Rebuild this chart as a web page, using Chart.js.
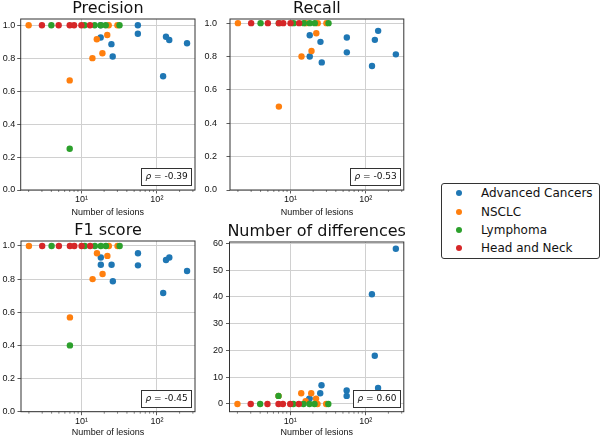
<!DOCTYPE html>
<html>
<head>
<meta charset="utf-8">
<script src="https://cdn.jsdelivr.net/npm/chart.js@4.4.0/dist/chart.umd.min.js"></script>
<style>
  body { margin: 0; width: 602px; height: 438px; position: relative; overflow: hidden; background: #fff; font-family: 'DejaVu Sans', sans-serif; }
  canvas { position: absolute; }
  #legend { position: absolute; left: 441px; top: 183px; width: 157px; height: 74px; border: 1px solid #333; border-radius: 3px; }
  .row { position: absolute; left: 0; font-size: 12px; color: #111; line-height: 14px; white-space: nowrap; }
  .dot { position: absolute; width: 6.4px; height: 6.4px; border-radius: 50%; }
</style>
</head>
<body>
<canvas id="cPrecision"></canvas>
<canvas id="cRecall"></canvas>
<canvas id="cF1"></canvas>
<canvas id="cDiffs"></canvas>
<div id="legend"></div>
<script>
// series
const seriesNames = ['Advanced Cancers', 'NSCLC', 'Lymphoma', 'Head and Neck'];
const seriesColors = ['#1f77b4', '#ff7f0e', '#2ca02c', '#d62728'];

// Advanced Cancers
const advLesions   = [18, 18, 25, 26, 56, 56, 121, 132, 146, 251];
const advPrecision = [0.925, 1.0, 0.885, 0.81, 1.0, 0.948, 0.69, 0.93, 0.91, 0.89];
const advRecall    = [0.928, 0.80, 0.888, 0.765, 0.914, 0.825, 0.743, 0.90, 0.954, 0.813];
const advF1        = [0.93, 0.887, 0.887, 0.787, 0.956, 0.883, 0.716, 0.915, 0.93, 0.849];
const advDiffs     = [2, 2, 4, 7, 5, 3, 41, 18, 6, 58];

// NSCLC
const nsclcLesions   = [2, 7, 14, 16, 19, 22, 23, 30];
const nsclcPrecision = [1, 0.665, 0.80, 0.915, 0.83, 0.94, 1, 1];
const nsclcRecall    = [1, 0.5, 0.80, 1, 0.833, 0.94, 1, 1];
const nsclcF1        = [1, 0.569, 0.80, 0.956, 0.831, 0.94, 1, 1];
const nsclcDiffs     = [0, 3, 4, 1, 4, 2, 0, 0];

// Lymphoma
const lymLesions   = [4, 7, 11, 15, 18, 21, 32];
const lymPrecision = [1, 0.25, 1, 1, 1, 1, 1];
const lymRecall    = [1, 1, 1, 1, 1, 1, 1];
const lymF1        = [1, 0.40, 1, 1, 1, 1, 1];
const lymDiffs     = [0, 3, 0, 0, 0, 0, 0];

// Head and Neck
const hnLesions   = [3, 5, 7, 8, 10, 13];
const hnPrecision = [1, 1, 1, 1, 1, 1];
const hnRecall    = [1, 1, 1, 1, 1, 1];
const hnF1        = [1, 1, 1, 1, 1, 1];
const hnDiffs     = [0, 0, 0, 0, 0, 0];

// axes
const xTicks = [10, 100];
const xTickLabels = ['10\u00b9', '10\u00b2'];
const xMinorTicks = [2, 3, 4, 5, 6, 7, 8, 9, 20, 30, 40, 50, 60, 70, 80, 90, 200, 300];
const scoreTicks = [0, 0.2, 0.4, 0.6, 0.8, 1.0];
const diffTicks = [0, 10, 20, 30, 40, 50, 60];
const rhoValues = ['-0.39', '-0.53', '-0.45', '0.60'];

const lesionsBySeries = [advLesions, nsclcLesions, lymLesions, hnLesions];

// frame, minor ticks, panel title and rho box
const panelExtras = {
    id: 'panelExtras',
    afterDraw(chart, args, opts) {
        const ctx = chart.ctx;
        const a = chart.chartArea;
        const xs = chart.scales.x;
        ctx.save();
        ctx.strokeStyle = '#333';
        ctx.lineWidth = 0.6;
        xMinorTicks.forEach(v => {
            const px = xs.getPixelForValue(v);
            if (px < a.left || px > a.right) return;
            ctx.beginPath();
            ctx.moveTo(px, a.bottom);
            ctx.lineTo(px, a.bottom + 2);
            ctx.stroke();
        });
        ctx.lineWidth = 1;
        ctx.strokeRect(a.left, a.top, a.right - a.left, a.bottom - a.top);

        ctx.fillStyle = '#111';
        ctx.font = '16px "DejaVu Sans"';
        ctx.textAlign = 'center';
        ctx.textBaseline = 'alphabetic';
        ctx.fillText(opts.title, (a.left + a.right) / 2, a.top - 6);

        ctx.font = 'italic 9px "DejaVu Sans"';
        const w1 = ctx.measureText('\u03c1').width;
        ctx.font = '9px "DejaVu Sans"';
        const rest = ' = ' + opts.rho;
        const w2 = ctx.measureText(rest).width;
        const pad = 4, bh = 17;
        const bw = Math.round(w1 + w2 + 2 * pad);
        const bx = Math.round(a.right - 4 - bw) + 0.5;
        const by = Math.round(a.bottom - 5 - bh) + 0.5;
        ctx.fillStyle = '#fff';
        ctx.fillRect(bx, by, bw, bh);
        ctx.strokeStyle = '#333';
        ctx.strokeRect(bx, by, bw, bh);
        ctx.fillStyle = '#111';
        ctx.textAlign = 'left';
        ctx.textBaseline = 'middle';
        ctx.font = 'italic 9px "DejaVu Sans"';
        ctx.fillText('\u03c1', bx + pad, by + bh / 2);
        ctx.font = '9px "DejaVu Sans"';
        ctx.fillText(rest, bx + pad + w1, by + bh / 2);
        ctx.restore();
    }
};

function makePanel(id, p) {
    const canvas = document.getElementById(id);
    canvas.width = p.w;
    canvas.height = p.h;
    canvas.style.left = p.left + 'px';
    canvas.style.top = p.top + 'px';
    canvas.style.width = p.w + 'px';
    canvas.style.height = p.h + 'px';

    const datasets = seriesNames.map((name, i) => ({
        label: name,
        data: lesionsBySeries[i].map((x, j) => ({ x: x, y: p.values[i][j] })),
        backgroundColor: seriesColors[i],
        borderColor: seriesColors[i],
        borderWidth: 0,
        pointRadius: 3.2,
        pointHoverRadius: 3.2,
        order: seriesNames.length - 1 - i
    }));

    new Chart(canvas.getContext('2d'), {
        type: 'scatter',
        data: { datasets: datasets },
        plugins: [panelExtras],
        options: {
            responsive: false,
            animation: false,
            devicePixelRatio: 1,
            layout: { padding: { top: p.padTop, right: p.padRight, left: 0, bottom: 0 } },
            plugins: {
                legend: { display: false },
                title: { display: false },
                tooltip: { enabled: false },
                panelExtras: { title: p.title, rho: p.rho }
            },
            scales: {
                x: {
                    type: 'logarithmic',
                    min: 1.57,
                    max: 320,
                    bounds: 'data',
                    afterBuildTicks: s => { s.ticks = xTicks.map(v => ({ value: v, major: true })); },
                    afterFit: s => { s.height = p.xHeight; },
                    ticks: {
                        autoSkip: false,
                        maxRotation: 0,
                        padding: 1,
                        color: '#111',
                        font: { size: 9 },
                        callback: (v, i) => xTickLabels[i]
                    },
                    grid: { color: '#d0d0d0', lineWidth: 1, tickLength: 3.5, tickColor: '#333', tickWidth: 0.8 },
                    border: { display: false },
                    title: { display: true, text: 'Number of lesions', color: '#111', font: { size: 9 }, padding: { top: 0, bottom: p.xTitlePad } }
                },
                y: {
                    min: p.yMin,
                    max: p.yMax,
                    afterBuildTicks: s => { s.ticks = p.yTicks.map(v => ({ value: v })); },
                    afterFit: s => { s.width = p.yWidth; },
                    ticks: {
                        padding: p.yPad,
                        color: '#111',
                        font: { size: 9 },
                        callback: p.fmt
                    },
                    grid: { color: '#d0d0d0', lineWidth: 1, tickLength: 3.5, tickColor: '#333', tickWidth: 0.8 },
                    border: { display: false }
                }
            }
        }
    });
}

const fmtScore = v => Number(v).toFixed(1);
const fmtInt = v => String(v);

makePanel('cPrecision', {
    left: 0, top: 0, w: 201, h: 219, padTop: 19, padRight: 6, yWidth: 20.7, xHeight: 29, xTitlePad: 1,
    yMin: 0, yMax: 1.0375, yTicks: scoreTicks, yPad: 2, fmt: fmtScore,
    title: 'Precision', rho: rhoValues[0],
    values: [advPrecision, nsclcPrecision, lymPrecision, hnPrecision]
});
makePanel('cRecall', {
    left: 201, top: 0, w: 206, h: 219, padTop: 19, padRight: 2, yWidth: 29, xHeight: 29, xTitlePad: 1,
    yMin: 0, yMax: 1.025, yTicks: scoreTicks, yPad: 9.5, fmt: fmtScore,
    title: 'Recall', rho: rhoValues[1],
    values: [advRecall, nsclcRecall, lymRecall, hnRecall]
});
makePanel('cF1', {
    left: 0, top: 219, w: 201, h: 219, padTop: 22, padRight: 6, yWidth: 21, xHeight: 26.3, xTitlePad: 0,
    yMin: 0, yMax: 1.03, yTicks: scoreTicks, yPad: 2.5, fmt: fmtScore,
    title: 'F1 score', rho: rhoValues[2],
    values: [advF1, nsclcF1, lymF1, hnF1]
});
makePanel('cDiffs', {
    left: 201, top: 219, w: 206, h: 219, padTop: 23, padRight: 2.5, yWidth: 28.5, xHeight: 26.3, xTitlePad: 0,
    yMin: -2.9, yMax: 60.5, yTicks: diffTicks, yPad: 3, fmt: fmtInt,
    title: 'Number of differences', rho: rhoValues[3],
    values: [advDiffs, nsclcDiffs, lymDiffs, hnDiffs]
});

// legend
const legend = document.getElementById('legend');
const rowTops = [2.3, 21, 39, 57.3];
seriesNames.forEach((name, i) => {
    const dot = document.createElement('div');
    dot.className = 'dot';
    dot.style.background = seriesColors[i];
    dot.style.left = '13.8px';
    dot.style.top = (rowTops[i] + 3.8) + 'px';
    legend.appendChild(dot);
    const row = document.createElement('div');
    row.className = 'row';
    row.style.left = '39px';
    row.style.top = rowTops[i] + 'px';
    row.textContent = name;
    legend.appendChild(row);
});
</script>
</body>
</html>
